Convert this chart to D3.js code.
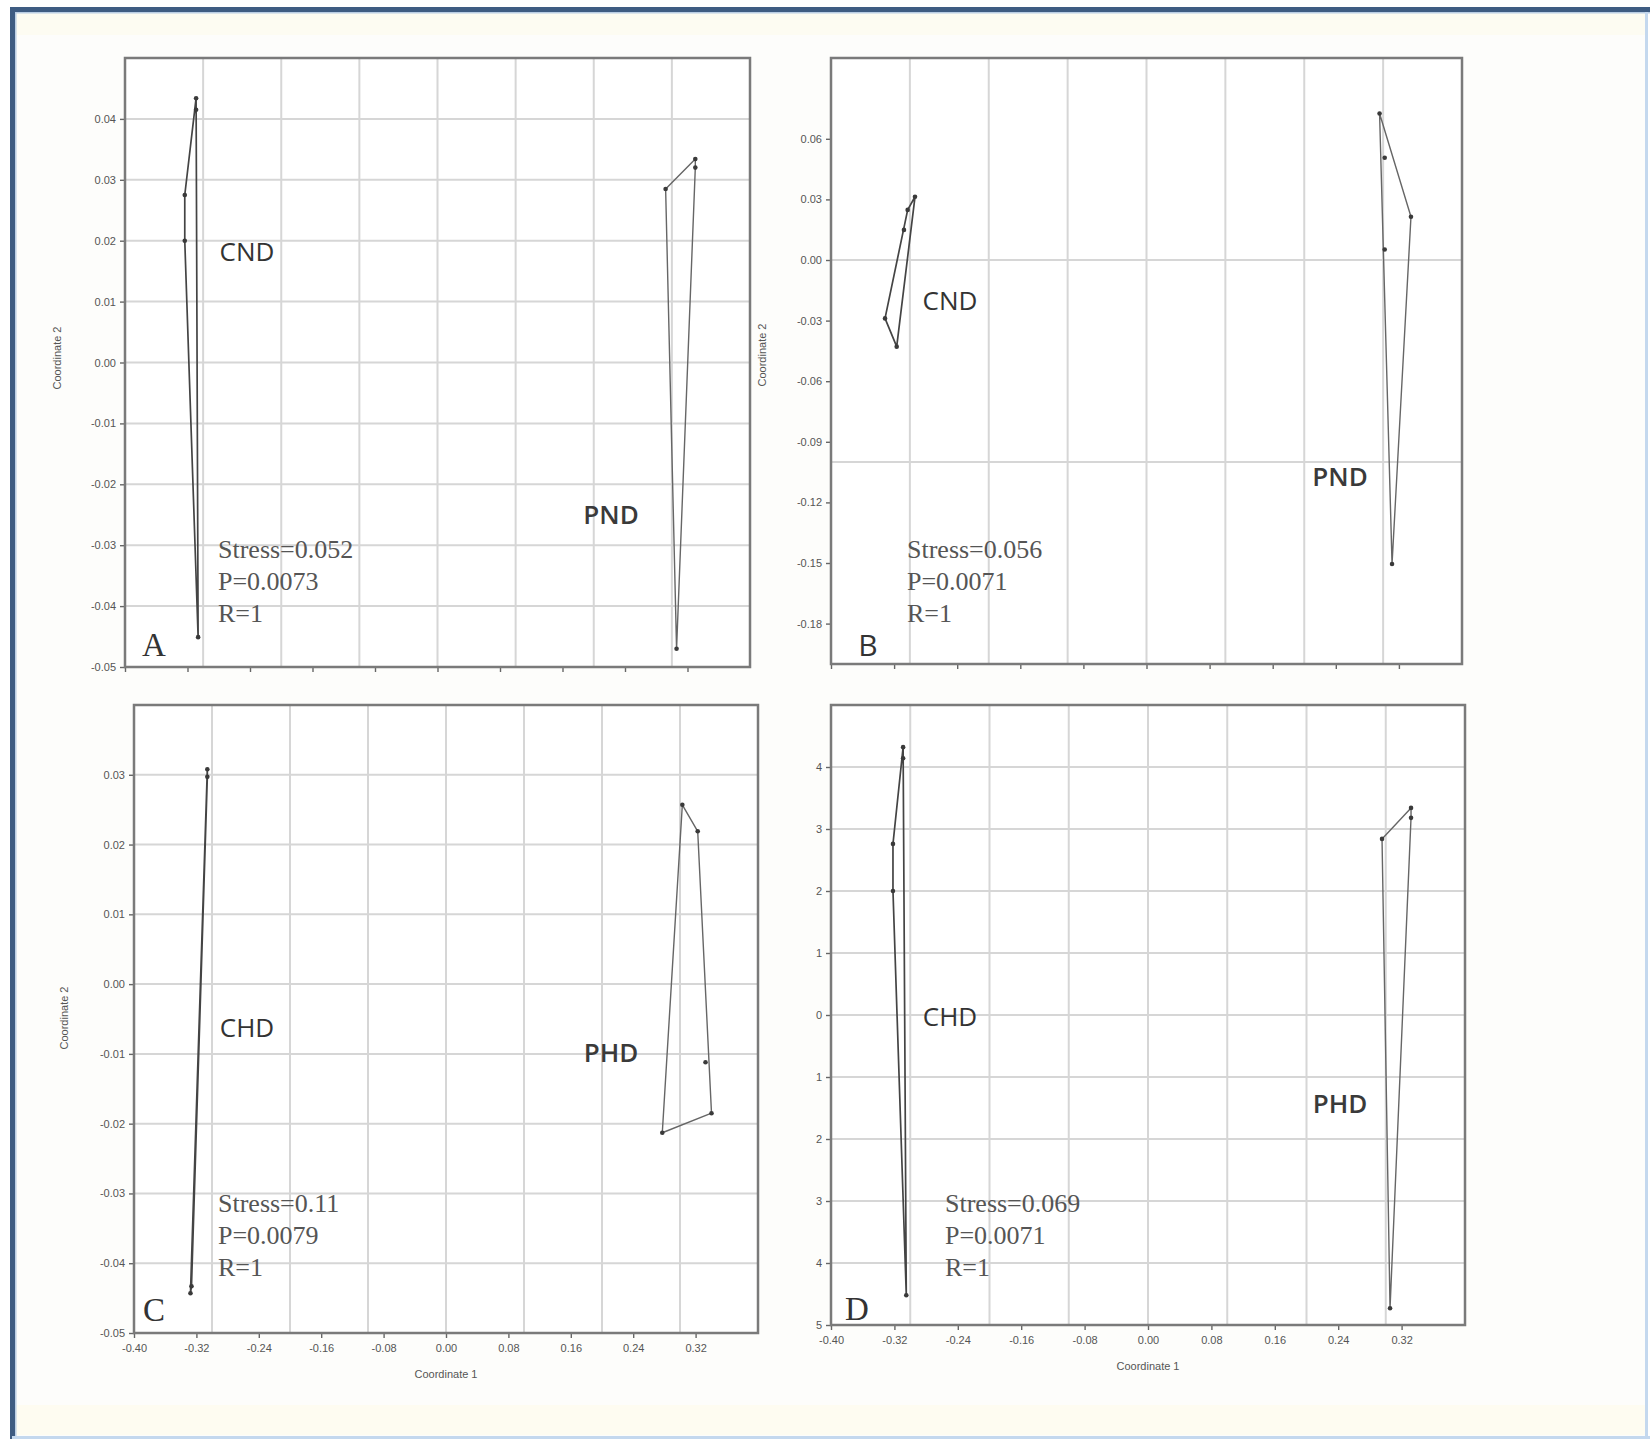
<!DOCTYPE html>
<html>
<head>
<meta charset="utf-8">
<script src="https://cdn.jsdelivr.net/npm/d3@7"></script>
<style>
  html, body { margin: 0; padding: 0; background: #fff; }
  svg { display: block; }
</style>
</head>
<body>
<div id="chart"></div>
<script>
/* ============================================================
   DATA — NMDS ordinations, four panels (A–D)
   ============================================================ */

const xTicks = [-0.40, -0.32, -0.24, -0.16, -0.08, 0.00, 0.08, 0.16, 0.24, 0.32];
const xGrid  = [-0.3, -0.2, -0.1, 0.0, 0.1, 0.2, 0.3];

const yTicksA = [0.04, 0.03, 0.02, 0.01, 0.00, -0.01, -0.02, -0.03, -0.04, -0.05];
const yTicksB = [0.06, 0.03, 0.00, -0.03, -0.06, -0.09, -0.12, -0.15, -0.18];
const yGridB  = [0.00, -0.10];
const yTicksC = [0.03, 0.02, 0.01, 0.00, -0.01, -0.02, -0.03, -0.04, -0.05];
const yTicksD = [0.04, 0.03, 0.02, 0.01, 0.00, -0.01, -0.02, -0.03, -0.04, -0.05];
const yLabelsD = ['4', '3', '2', '1', '0', '1', '2', '3', '4', '5'];

// Coordinate 1, Coordinate 2 of each sample
const cndA = [[-0.309, 0.0434], [-0.309, 0.0415], [-0.3235, 0.0275], [-0.3235, 0.0200], [-0.3064, -0.0451]];
const pndA = [[0.292, 0.0285], [0.330, 0.0334], [0.330, 0.0320], [0.306, -0.0470]];

const cndB = [[-0.2935, 0.0313], [-0.3028, 0.0248], [-0.3075, 0.0149], [-0.3315, -0.0289], [-0.3167, -0.0429]];
const pndB = [[0.2955, 0.0725], [0.302, 0.0506], [0.3353, 0.0214], [0.302, 0.0052], [0.3113, -0.1505]];

const chdC = [[-0.306, 0.0308], [-0.306, 0.0297], [-0.3263, -0.0433], [-0.3276, -0.0443]];
const phdC = [[0.303, 0.0257], [0.3227, 0.0219], [0.3327, -0.0112], [0.3404, -0.0185], [0.2773, -0.0213]];

const chdD = [[-0.309, 0.0432], [-0.309, 0.0414], [-0.3218, 0.0276], [-0.3218, 0.0200], [-0.305, -0.0452]];
const phdD = [[0.2953, 0.0284], [0.3319, 0.0334], [0.3319, 0.0318], [0.3054, -0.0473]];

const statsA = ['Stress=0.052', 'P=0.0073', 'R=1'];
const statsB = ['Stress=0.056', 'P=0.0071', 'R=1'];
const statsC = ['Stress=0.11',  'P=0.0079', 'R=1'];
const statsD = ['Stress=0.069', 'P=0.0071', 'R=1'];


/* ============================================================
   LAYOUT
   ============================================================ */

const W = 1650, H = 1439;
const fmt = d3.formatLocale({ decimal: '.', thousands: ',', grouping: [3], currency: ['', ''], minus: '-' }).format('.2f');

const SANS  = '"Open Sans", "Noto Sans", Arial, sans-serif';
const SERIF = '"Liberation Serif", "Times New Roman", serif';
const AXISF = '"Liberation Sans", Arial, sans-serif';

const panels = [
  { id: 'A', box: [125, 58, 750, 667], yDomain: [-0.05, 0.05], yTicks: yTicksA, yGrid: yTicksA, yFmt: fmt,
    groups: [ { pts: cndA, label: 'CND', at: [122, 194], bold: false },
              { pts: pndA, label: 'PND', at: [486, 457], bold: true } ],
    stats: statsA, statsAt: [93, 491], letter: 'A', letterAt: [29, 586], letterFont: SERIF,
    yTitleAt: [-64, 300], xLabels: false },
  { id: 'B', box: [831, 58, 1462, 664], yDomain: [-0.20, 0.10], yTicks: yTicksB, yGrid: yGridB, yFmt: fmt,
    groups: [ { pts: cndB, label: 'CND', at: [119, 243], bold: false },
              { pts: pndB, label: 'PND', at: [509, 419], bold: true } ],
    stats: statsB, statsAt: [76, 491], letter: 'B', letterAt: [37, 586], letterFont: SANS,
    yTitleAt: [-65, 297], xLabels: false },
  { id: 'C', box: [134, 705, 758, 1333], yDomain: [-0.05, 0.04], yTicks: yTicksC, yGrid: yTicksC, yFmt: fmt,
    groups: [ { pts: chdC, label: 'CHD', at: [113, 323], bold: false },
              { pts: phdC, label: 'PHD', at: [477, 348], bold: true } ],
    stats: statsC, statsAt: [84, 498], letter: 'C', letterAt: [20, 604], letterFont: SERIF,
    yTitleAt: [-66, 313], xLabels: true },
  { id: 'D', box: [831, 705, 1465, 1325], yDomain: [-0.05, 0.05], yTicks: yTicksD, yGrid: yTicksD,
    yFmt: (d, i) => yLabelsD[i],
    groups: [ { pts: chdD, label: 'CHD', at: [119, 312], bold: false },
              { pts: phdD, label: 'PHD', at: [509, 399], bold: true } ],
    stats: statsD, statsAt: [114, 498], letter: 'D', letterAt: [26, 603], letterFont: SERIF,
    yTitleAt: null, xLabels: true },
];


/* ============================================================
   PAGE FRAME
   ============================================================ */

const svg = d3.select('#chart').append('svg').attr('width', W).attr('height', H);

svg.append('rect').attr('x', 10).attr('y', 7).attr('width', 1638).attr('height', 1430).attr('fill', '#fdfdfb');
svg.append('rect').attr('x', 15).attr('y', 13).attr('width', 1630).attr('height', 22).attr('fill', '#fdfcf2');
svg.append('rect').attr('x', 15).attr('y', 1405).attr('width', 1630).attr('height', 30).attr('fill', '#fefcf1');
// dark blue border top / left, pale blue right / bottom
svg.append('line').attr('x1', 10).attr('x2', 1650).attr('y1', 9.5).attr('y2', 9.5).attr('stroke', '#3e5c82').attr('stroke-width', 5);
svg.append('line').attr('x1', 12.5).attr('x2', 12.5).attr('y1', 7).attr('y2', 1439).attr('stroke', '#3e5c82').attr('stroke-width', 5);
svg.append('line').attr('x1', 15).attr('x2', 1650).attr('y1', 12.8).attr('y2', 12.8).attr('stroke', '#b9cde4').attr('stroke-width', 1.5);
svg.append('line').attr('x1', 15.8).attr('x2', 15.8).attr('y1', 12).attr('y2', 1439).attr('stroke', '#b9cde4').attr('stroke-width', 1.5);
svg.append('line').attr('x1', 1646.5).attr('x2', 1646.5).attr('y1', 12).attr('y2', 1439).attr('stroke', '#c4d8ee').attr('stroke-width', 3);
svg.append('line').attr('x1', 12).attr('x2', 1650).attr('y1', 1437.5).attr('y2', 1437.5).attr('stroke', '#c4d8ee').attr('stroke-width', 3);


/* ============================================================
   PANELS
   ============================================================ */

function drawPanel(p) {
  const [x0, y0, x1, y1] = p.box;
  const w = x1 - x0, h = y1 - y0;

  const x = d3.scaleLinear().domain([-0.40, 0.40]).range([0, w]);
  const y = d3.scaleLinear().domain(p.yDomain).range([h, 0]);

  const g = svg.append('g').attr('transform', `translate(${x0},${y0})`);

  // background + grid
  g.append('rect').attr('width', w).attr('height', h).attr('fill', '#fff');

  g.append('g').selectAll('line')
    .data(xGrid)
    .join('line')
    .attr('x1', d => x(d)).attr('x2', d => x(d))
    .attr('y1', 0).attr('y2', h)
    .attr('stroke', '#d6d6d6').attr('stroke-width', 2);

  g.append('g').selectAll('line')
    .data(p.yGrid.filter(d => y(d) > 2 && y(d) < h - 2))
    .join('line')
    .attr('x1', 0).attr('x2', w)
    .attr('y1', d => y(d)).attr('y2', d => y(d))
    .attr('stroke', '#d6d6d6').attr('stroke-width', 2);

  // axes
  const yAxis = g.append('g')
    .call(d3.axisLeft(y).tickValues(p.yTicks).tickFormat(p.yFmt).tickSize(5).tickPadding(4));
  const xAxis = g.append('g')
    .attr('transform', `translate(0,${h})`)
    .call(d3.axisBottom(x).tickValues(xTicks).tickFormat(p.xLabels ? fmt : '').tickSize(5).tickPadding(6));

  [yAxis, xAxis].forEach(a => {
    a.select('.domain').remove();
    a.selectAll('.tick line').attr('stroke', '#666').attr('stroke-width', 1.4);
    a.selectAll('.tick text')
      .attr('fill', '#555')
      .style('font-family', AXISF)
      .style('font-size', '11px');
  });

  // plot frame
  g.append('rect').attr('width', w).attr('height', h)
    .attr('fill', 'none').attr('stroke', '#7a7a7a').attr('stroke-width', 2.5);

  // axis titles
  if (p.xLabels) {
    g.append('text')
      .attr('x', w / 2).attr('y', h + 45)
      .attr('text-anchor', 'middle')
      .attr('fill', '#555')
      .style('font-family', AXISF).style('font-size', '11px')
      .text('Coordinate 1');
  }
  if (p.yTitleAt) {
    g.append('text')
      .attr('transform', `translate(${p.yTitleAt[0]},${p.yTitleAt[1]}) rotate(-90)`)
      .attr('text-anchor', 'middle')
      .attr('fill', '#555')
      .style('font-family', AXISF).style('font-size', '11px')
      .text('Coordinate 2');
  }

  // convex hulls + sample points
  p.groups.forEach(grp => {
    const pix  = grp.pts.map(d => [x(d[0]), y(d[1])]);
    const hull = d3.polygonHull(pix);

    g.append('path')
      .attr('d', 'M' + hull.join('L') + 'Z')
      .attr('fill', 'none')
      .attr('stroke', grp.bold ? '#666' : '#444')
      .attr('stroke-width', grp.bold ? 1.4 : 1.7)
      .attr('stroke-linejoin', 'round');

    g.append('g').selectAll('circle')
      .data(pix)
      .join('circle')
      .attr('cx', d => d[0]).attr('cy', d => d[1])
      .attr('r', 2.3)
      .attr('fill', '#3a3a3a');

    g.append('text')
      .attr('x', grp.at[0]).attr('y', grp.at[1] + 9)
      .attr('text-anchor', 'middle')
      .attr('fill', grp.bold ? '#3a3a3a' : '#333')
      .style('font-family', SANS)
      .style('font-size', '26px')
      .style('font-weight', grp.bold ? 600 : 400)
      .text(grp.label);
  });

  // stress / P / R annotation
  g.append('g').selectAll('text')
    .data(p.stats)
    .join('text')
    .attr('x', p.statsAt[0])
    .attr('y', (d, i) => p.statsAt[1] + i * 32 + 9)
    .attr('fill', '#555')
    .style('font-family', SERIF)
    .style('font-size', '26px')
    .text(d => d);

  // panel letter
  g.append('text')
    .attr('x', p.letterAt[0]).attr('y', p.letterAt[1] + 12)
    .attr('text-anchor', 'middle')
    .attr('fill', '#333')
    .style('font-family', p.letterFont)
    .style('font-size', p.letterFont === SANS ? '30px' : '33px')
    .text(p.letter);
}

panels.forEach(drawPanel);
</script>
</body>
</html>
